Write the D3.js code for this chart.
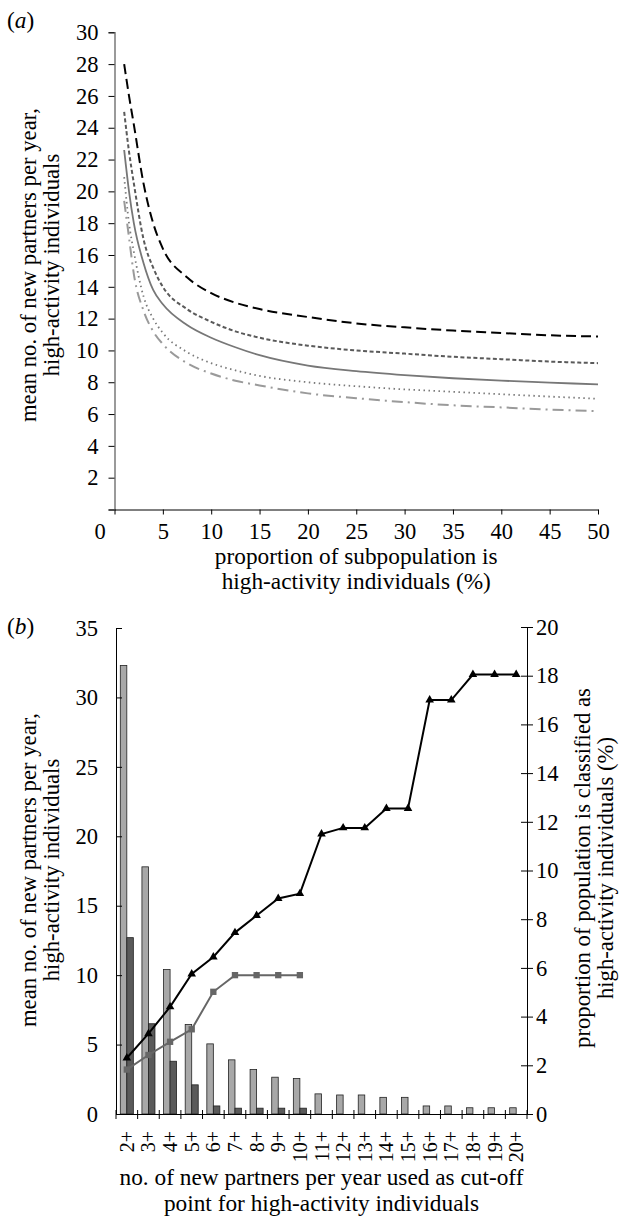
<!DOCTYPE html>
<html>
<head>
<meta charset="utf-8">
<script src="https://cdn.jsdelivr.net/npm/d3@7"></script>
<style>
  body { margin: 0; background: #fff; }
  svg { display: block; font-family: "Liberation Serif", "Times New Roman", serif; }
  .axis text { font-family: "Liberation Serif", "Times New Roman", serif; font-size: 22.5px; fill: #000; }
  .axis.rot text { font-size: 20px; }
</style>
</head>
<body>
<div id="chart"></div>
<script>
// ---- panel (a) data: x = % of subpopulation, one array per curve ----
const propX = [1, 1.5, 2, 3, 4, 5, 7.5, 10, 12.5, 15, 20, 25, 30, 35, 40, 45, 50];
const curveBlackDash = [28, 26, 24.2, 20.5, 18, 16.4, 14.6, 13.6, 13.0, 12.6, 12.1, 11.7, 11.45, 11.25, 11.1, 10.95, 10.88];
const curveGreyDash  = [25, 22.5, 20.5, 17, 15.2, 14.0, 12.6, 11.8, 11.2, 10.8, 10.3, 10.0, 9.8, 9.6, 9.45, 9.3, 9.2];
const curveGreySolid = [22.6, 20, 18, 15.5, 13.8, 12.9, 11.6, 10.8, 10.2, 9.7, 9.05, 8.7, 8.45, 8.25, 8.1, 7.98, 7.86];
const curveDotted    = [20.9, 18, 16.2, 13.4, 12.0, 11.1, 9.9, 9.2, 8.75, 8.4, 8.0, 7.75, 7.55, 7.4, 7.25, 7.1, 6.96];
const curveDashDot   = [19.4, 17.1, 14.8, 12.5, 11.2, 10.4, 9.2, 8.55, 8.1, 7.8, 7.3, 7.0, 6.75, 6.55, 6.42, 6.28, 6.18];
const yTicksA = d3.range(0, 31, 2);
const xTicksA = d3.range(0, 51, 5);

// ---- panel (b) data ----
const cutoffs = ["2+", "3+", "4+", "5+", "6+", "7+", "8+", "9+", "10+", "11+", "12+", "13+", "14+", "15+", "16+", "17+", "18+", "19+", "20+"];
const barsLight = [32.3, 17.8, 10.4, 6.45, 5.05, 3.9, 3.2, 2.65, 2.55, 1.45, 1.37, 1.37, 1.2, 1.2, 0.58, 0.58, 0.45, 0.45, 0.45];
const barsDark  = [12.7, 6.5, 3.8, 2.1, 0.58, 0.42, 0.42, 0.42, 0.42, 0, 0, 0, 0, 0, 0, 0, 0, 0, 0];
const meanLine  = [3.2, 4.25, 5.2, 6.1, 8.8, 10, 10, 10, 10];          // grey squares, left axis
const propLine  = [2.3, 3.3, 4.4, 5.75, 6.45, 7.45, 8.15, 8.85, 9.05, 11.5, 11.75, 11.75, 12.55, 12.55, 17, 17, 18.05, 18.05, 18.05]; // triangles, right axis
const yTicksL = d3.range(0, 36, 5);
const yTicksR = d3.range(0, 21, 2);

const W = 624, H = 1221;
const titleSize = 23.3;
const svg = d3.select("#chart").append("svg").attr("width", W).attr("height", H);

function panelLabel(letter, x, y) {
  const t = svg.append("text").attr("x", x).attr("y", y).attr("font-size", titleSize);
  t.append("tspan").text("(");
  t.append("tspan").attr("font-style", "italic").text(letter);
  t.append("tspan").text(")");
}

function rotatedTitle(lines, x0, dx, yc) {
  lines.forEach((s, i) => {
    svg.append("text")
      .attr("transform", `translate(${x0 + i * dx},${yc}) rotate(-90)`)
      .attr("text-anchor", "middle")
      .attr("font-size", 22.7)
      .text(s);
  });
}

function xTitle(lines, xc, y0, dy) {
  lines.forEach((s, i) => {
    svg.append("text").attr("x", xc).attr("y", y0 + i * dy)
      .attr("text-anchor", "middle").attr("font-size", titleSize).text(s);
  });
}

// ================= panel (a) =================
const xA = d3.scaleLinear().domain([0, 50]).range([114.5, 598]);
const yA = d3.scaleLinear().domain([0, 30]).range([509.5, 32.3]);

const gyA = svg.append("g").attr("class", "axis")
  .attr("transform", `translate(${xA(0)},0)`)
  .call(d3.axisLeft(yA).tickValues(yTicksA).tickSize(6).tickPadding(10)
    .tickFormat(d => d === 0 ? "" : d));
gyA.select(".domain").attr("stroke", "#7a7a7a").attr("stroke-width", 1.5);
gyA.selectAll(".tick line").attr("stroke", "#000");

const gxA = svg.append("g").attr("class", "axis")
  .attr("transform", `translate(0,${yA(0)})`)
  .call(d3.axisBottom(xA).tickValues(xTicksA).tickSize(5).tickPadding(9).tickSizeOuter(0));
gxA.selectAll(".tick text").filter(d => d === 0).attr("x", -15);

const lineA = d3.line().x(d => xA(d[0])).y(d => yA(d[1])).curve(d3.curveMonotoneX);
const seriesA = [
  { values: curveDashDot,   stroke: "#9a9a9a", width: 2,   dash: "11,5,2,5" },
  { values: curveDotted,    stroke: "#7a7a7a", width: 1.8, dash: "1.5,3.5" },
  { values: curveGreySolid, stroke: "#777",    width: 1.8, dash: null },
  { values: curveGreyDash,  stroke: "#5a5a5a", width: 2,   dash: "4,2.5" },
  { values: curveBlackDash, stroke: "#000",    width: 2,   dash: "10,5" }
];
svg.append("g").selectAll("path")
  .data(seriesA)
  .join("path")
  .attr("fill", "none")
  .attr("stroke", d => d.stroke)
  .attr("stroke-width", d => d.width)
  .attr("stroke-dasharray", d => d.dash)
  .attr("d", d => lineA(propX.map((x, i) => [x, d.values[i]])));

panelLabel("a", 7, 28);
rotatedTitle(["mean no. of new partners per year,", "high-activity individuals"], 36, 23, 265);
xTitle(["proportion of subpopulation is", "high-activity individuals (%)"], (xA(0) + xA(50)) / 2, 564, 25);

// ================= panel (b) =================
const xB = d3.scaleBand().domain(cutoffs).range([116, 527]);
const yL = d3.scaleLinear().domain([0, 35]).range([1114, 628]);
const yR = d3.scaleLinear().domain([0, 20]).range([1114, 627]);
const xInner = d3.scaleBand().domain(["light", "dark"]).range([0, xB.bandwidth()]).paddingOuter(0.66);

const groups = svg.append("g").selectAll("g")
  .data(cutoffs)
  .join("g")
  .attr("transform", d => `translate(${xB(d)},0)`);
groups.selectAll("rect")
  .data((d, i) => [{ key: "light", v: barsLight[i] }, { key: "dark", v: barsDark[i] }].filter(b => b.v > 0))
  .join("rect")
  .attr("x", d => xInner(d.key))
  .attr("y", d => yL(d.v))
  .attr("width", xInner.bandwidth())
  .attr("height", d => yL(0) - yL(d.v))
  .attr("fill", d => d.key === "light" ? "#a8a8a8" : "#5a5a5a")
  .attr("stroke", "#222")
  .attr("stroke-width", 0.8);

// left axis (ticks cross the line)
svg.append("g").attr("class", "axis")
  .attr("transform", `translate(${xB.range()[0]},0)`)
  .call(d3.axisLeft(yL).tickValues(yTicksL).tickSizeInner(6).tickSizeOuter(0).tickPadding(12))
  .call(g => g.selectAll(".tick line").attr("x2", 6));

// right axis
svg.append("g").attr("class", "axis")
  .attr("transform", `translate(${xB.range()[1]},0)`)
  .call(d3.axisRight(yR).tickValues(yTicksR).tickSizeInner(6).tickSizeOuter(0).tickPadding(3))
  .call(g => g.selectAll(".tick line").attr("x2", -6).attr("x1", 6));

// bottom axis: labels at band centres, ticks at band edges
const gxB = svg.append("g").attr("class", "axis rot")
  .attr("transform", `translate(0,${yL(0)})`)
  .call(d3.axisBottom(xB).tickSize(0).tickSizeOuter(0));
gxB.selectAll(".tick text")
  .attr("transform", "rotate(-90)")
  .attr("x", -17).attr("y", 0).attr("dy", "0.35em")
  .style("text-anchor", "end");
svg.append("g").selectAll("line")
  .data(cutoffs.map(c => xB(c)).concat([xB.range()[1]]))
  .join("line")
  .attr("x1", d => d).attr("x2", d => d)
  .attr("y1", yL(0) - 4).attr("y2", yL(0) + 5)
  .attr("stroke", "#000");

// lines with markers
const cx = i => xB(cutoffs[i]) + xB.bandwidth() / 2;
const lineMean = d3.line().x((d, i) => cx(i)).y(d => yL(d));
const lineProp = d3.line().x((d, i) => cx(i)).y(d => yR(d));

svg.append("path").attr("fill", "none").attr("stroke", "#666").attr("stroke-width", 2).attr("d", lineMean(meanLine));
svg.append("g").selectAll("path")
  .data(meanLine)
  .join("path")
  .attr("transform", (d, i) => `translate(${cx(i)},${yL(d)})`)
  .attr("d", d3.symbol(d3.symbolSquare, 40))
  .attr("fill", "#666");

svg.append("path").attr("fill", "none").attr("stroke", "#000").attr("stroke-width", 2).attr("d", lineProp(propLine));
svg.append("g").selectAll("path")
  .data(propLine)
  .join("path")
  .attr("transform", (d, i) => `translate(${cx(i)},${yR(d)})`)
  .attr("d", d3.symbol(d3.symbolTriangle, 32))
  .attr("fill", "#000");

panelLabel("b", 7, 634);
rotatedTitle(["mean no. of new partners per year,", "high-activity individuals"], 36, 23, 870);
rotatedTitle(["proportion of population is classified as", "high-activity individuals (%)"], 590, 23, 868);
xTitle(["no. of new partners per year used as cut-off", "point for high-activity individuals"], (xB.range()[0] + xB.range()[1]) / 2, 1185, 26);
</script>
</body>
</html>
